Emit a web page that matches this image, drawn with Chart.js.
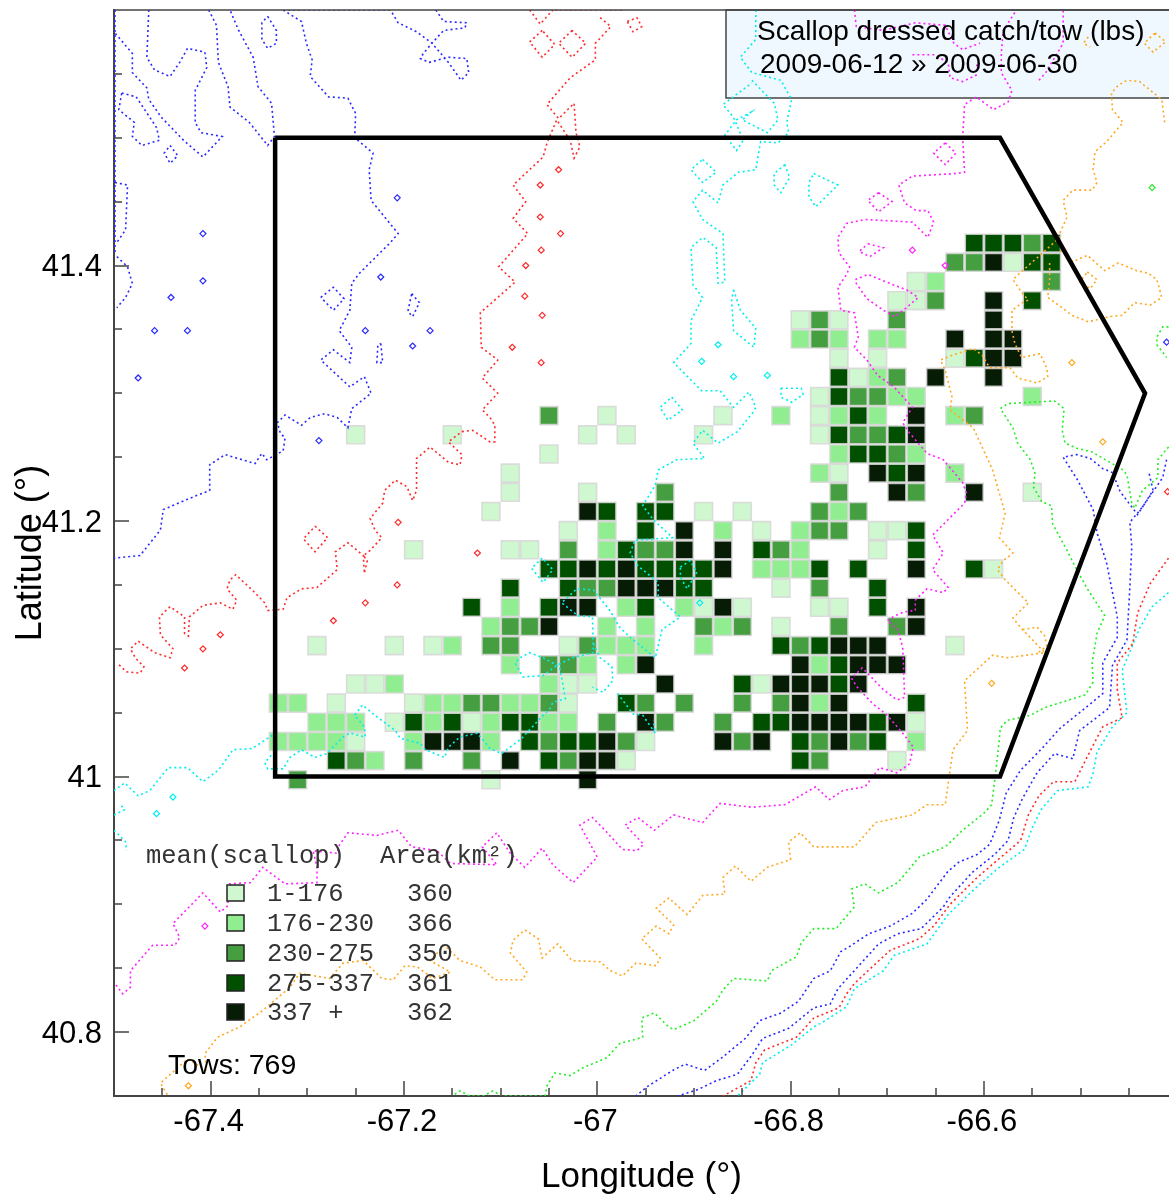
<!DOCTYPE html>
<html>
<head>
<meta charset="utf-8">
<title>Scallop dressed catch/tow</title>
<style>
    html, body { margin: 0; padding: 0; background: #fff; overflow: hidden; }
    canvas { display: block; }
</style>
<script src="https://cdn.jsdelivr.net/npm/chart.js@4"></script>
</head>
<body>
<canvas id="mapChart" width="1169" height="1195"></canvas>
<script>
const titleLines = ['Scallop dressed catch/tow (lbs)', '2009-06-12 \u00bb 2009-06-30'];
const legendLabels = ['1-176', '176-230', '230-275', '275-337', '337 +'];
const legendAreas = ['360', '366', '350', '361', '362'];
const classColors = ['#d0f8d0', '#90ee90', '#459e40', '#005000', '#071c04'];
const towsText = 'Tows: 769';

const lonTicks = [-67.45, -67.4, -67.35, -67.3, -67.25, -67.2, -67.15, -67.1, -67.05, -67, -66.95, -66.9, -66.85, -66.8, -66.75, -66.7, -66.65, -66.6, -66.55, -66.5, -66.45];
const lonLabels = [-67.4, -67.2, -67, -66.8, -66.6];
const latTicks = [40.8, 40.85, 40.9, 40.95, 41, 41.05, 41.1, 41.15, 41.2, 41.25, 41.3, 41.35, 41.4, 41.45, 41.5, 41.55];
const latLabels = [40.8, 41, 41.2, 41.4];

// survey box outline
const boxLine = [[-67.3333, 41.5], [-66.5833, 41.5], [-66.4333, 41.3], [-66.5833, 41], [-67.3333, 41], [-67.3333, 41.5]];

// grid cell centres
const cellLons = [-67.33, -67.31, -67.29, -67.27, -67.25, -67.23, -67.21, -67.19, -67.17, -67.15, -67.13, -67.11, -67.09, -67.07, -67.05, -67.03, -67.01, -66.99, -66.97, -66.95, -66.93, -66.91, -66.89, -66.87, -66.85, -66.83, -66.81, -66.79, -66.77, -66.75, -66.73, -66.71, -66.69, -66.67, -66.65, -66.63, -66.61, -66.59, -66.57, -66.55, -66.53];
const cellLats = [40.9975, 41.0125, 41.0275, 41.0425, 41.0575, 41.0725, 41.0875, 41.1025, 41.1175, 41.1325, 41.1475, 41.1625, 41.1775, 41.1925, 41.2075, 41.2225, 41.2375, 41.2525, 41.2675, 41.2825, 41.2975, 41.3125, 41.3275, 41.3425, 41.3575, 41.3725, 41.3875, 41.4025, 41.4175];
// one string per latitude (south first), one char per longitude: catch class 1-5
const cellRows = [
    '.3.........1....5',
    '...432.3..3.5.43551........43...1',
    '22221..25552.4344531...535.43534.2',
    '..222.1424124422.3.53..3.445555451',
    '22.1...122332231..43.3..3.3525...4',
    '....112.......211...5...4155545',
    '............2.332.25.......524555',
    '..1...1.12.33..13222..2...434555...1',
    '...........2335..2.2..323.1..3..35',
    '..........4.2.455.24.2151...11.4.5',
    '............4..43355544...1.3..4',
    '..............4454544445.2224.4..5..41',
    '.......1....11.3.24335.5.432...1.4',
    '...............1.2.4.5.2.1.233.114',
    '...........1....54.44.1.1...323',
    '............1...1...3........3..53..5..1',
    '............1...............21.545.2',
    '..............1..............24432',
    '....1....1......1.1...1.....143345',
    '..............3..1.....1..2.1242.5.23',
    '............................143322.....2',
    '.............................4123.5..5',
    '.............................1.1...1455',
    '...........................232.22..5.55',
    '...........................131..3....5',
    '................................113..5.4',
    '.................................12.....3',
    '...................................335144',
    '....................................44434'
];

// depth contours as [lon, lat] vertices
const blueLines = [
    [[-67.464,41.6],[-67.466,41.563],[-67.458,41.553],[-67.442,41.548],[-67.432,41.559],[-67.424,41.570],[-67.406,41.567],[-67.404,41.555],[-67.416,41.537],[-67.416,41.512],[-67.410,41.504],[-67.388,41.501],[-67.408,41.485],[-67.428,41.498],[-67.451,41.516],[-67.464,41.530],[-67.466,41.539],[-67.481,41.551],[-67.481,41.566],[-67.499,41.582]],
    [[-67.492,41.535],[-67.477,41.532],[-67.456,41.508],[-67.453,41.498],[-67.471,41.494],[-67.481,41.501],[-67.479,41.512],[-67.495,41.522],[-67.492,41.535]],
    [[-67.402,41.6],[-67.394,41.588],[-67.392,41.559],[-67.382,41.540],[-67.380,41.524],[-67.360,41.512],[-67.341,41.494],[-67.334,41.501],[-67.337,41.527],[-67.351,41.540],[-67.356,41.563],[-67.371,41.584],[-67.380,41.6]],
    [[-67.341,41.595],[-67.332,41.584],[-67.332,41.574],[-67.341,41.570],[-67.347,41.577],[-67.347,41.590],[-67.341,41.595]],
    [[-67.325,41.6],[-67.306,41.591],[-67.301,41.574],[-67.295,41.561],[-67.297,41.548],[-67.278,41.532],[-67.258,41.531],[-67.250,41.519],[-67.251,41.500],[-67.232,41.488],[-67.236,41.475],[-67.234,41.451],[-67.206,41.425],[-67.214,41.418],[-67.246,41.394],[-67.254,41.386],[-67.256,41.365],[-67.267,41.349],[-67.254,41.336],[-67.256,41.324],[-67.273,41.334],[-67.286,41.326],[-67.256,41.305],[-67.241,41.313],[-67.234,41.300],[-67.254,41.288],[-67.258,41.273],[-67.269,41.281],[-67.282,41.284],[-67.297,41.281],[-67.306,41.275],[-67.323,41.283],[-67.331,41.277],[-67.328,41.269],[-67.323,41.265],[-67.325,41.255],[-67.342,41.248],[-67.347,41.253],[-67.354,41.245],[-67.385,41.252],[-67.401,41.244],[-67.401,41.224],[-67.421,41.218],[-67.449,41.209],[-67.452,41.193],[-67.473,41.173],[-67.5,41.171]],
    [[-67.499,41.465],[-67.486,41.463],[-67.488,41.428],[-67.497,41.418]],
    [[-67.497,41.407],[-67.486,41.399],[-67.481,41.386],[-67.488,41.375],[-67.497,41.367]],
    [[-67.167,41.6],[-67.159,41.591],[-67.135,41.590],[-67.137,41.586],[-67.159,41.584],[-67.171,41.574],[-67.180,41.566],[-67.183,41.562],[-67.174,41.559],[-67.154,41.563],[-67.135,41.562],[-67.133,41.551],[-67.141,41.545],[-67.154,41.559],[-67.171,41.574],[-67.187,41.583],[-67.206,41.590],[-67.214,41.6]],
    [[-67.286,41.375],[-67.273,41.383],[-67.262,41.374],[-67.273,41.365],[-67.286,41.375]],
    [[-67.192,41.378],[-67.184,41.371],[-67.191,41.360],[-67.196,41.364],[-67.192,41.378]],
    [[-67.224,41.339],[-67.222,41.324],[-67.228,41.324],[-67.227,41.338],[-67.224,41.339]],
    [[-67.442,41.494],[-67.434,41.486],[-67.442,41.480],[-67.448,41.488],[-67.442,41.494]],
    [[-67.499,41.6],[-67.499,41.41]],
    [[-67.325,41.6],[-67.214,41.6]],
    [[-66.429,41.237],[-66.425,41.224],[-66.441,41.205],[-66.459,41.223],[-66.467,41.238],[-66.477,41.241],[-66.490,41.249],[-66.504,41.252],[-66.518,41.250],[-66.503,41.232],[-66.487,41.209],[-66.483,41.191],[-66.473,41.167],[-66.462,41.125],[-66.462,41.109],[-66.477,41.089],[-66.477,41.065],[-66.501,41.050],[-66.521,41.038],[-66.540,41.022],[-66.562,41.005],[-66.577,40.987],[-66.584,40.966],[-66.594,40.947],[-66.607,40.939],[-66.626,40.933],[-66.637,40.926],[-66.659,40.904],[-66.674,40.893],[-66.697,40.883],[-66.719,40.877],[-66.739,40.867],[-66.748,40.863],[-66.759,40.848],[-66.776,40.842],[-66.792,40.824],[-66.810,40.815],[-66.832,40.809],[-66.847,40.795],[-66.871,40.780],[-66.889,40.770],[-66.909,40.775],[-66.922,40.770],[-66.949,40.757],[-66.960,40.75]],
    [[-66.411,41.248],[-66.415,41.234],[-66.436,41.211],[-66.449,41.199],[-66.447,41.180],[-66.449,41.148],[-66.452,41.107],[-66.467,41.087],[-66.470,41.054],[-66.501,41.036],[-66.508,41.014],[-66.527,41.018],[-66.545,41.003],[-66.560,40.983],[-66.569,40.968],[-66.575,40.950],[-66.589,40.939],[-66.612,40.925],[-66.635,40.906],[-66.642,40.898],[-66.665,40.881],[-66.689,40.877],[-66.709,40.869],[-66.739,40.844],[-66.751,40.834],[-66.759,40.822],[-66.776,40.819],[-66.802,40.803],[-66.829,40.795],[-66.840,40.782],[-66.855,40.767],[-66.877,40.762],[-66.896,40.755],[-66.917,40.75]]
];
const blueSpecks = [[-67.408,41.425],[-67.408,41.388],[-67.441,41.375],[-67.458,41.349],[-67.424,41.349],[-67.475,41.312],[-67.207,41.453],[-67.173,41.349],[-67.191,41.337],[-67.240,41.349],[-67.224,41.391],[-67.288,41.263],[-66.411,41.340]];

const redLines = [
    [[-66.997,41.594],[-66.986,41.587],[-66.997,41.578],[-67.002,41.574],[-67.002,41.561],[-67.028,41.547],[-67.052,41.526],[-67.040,41.515],[-67.024,41.527],[-67.022,41.504],[-67.018,41.493],[-67.024,41.484],[-67.028,41.498],[-67.042,41.514],[-67.052,41.496],[-67.056,41.485],[-67.087,41.463],[-67.074,41.450],[-67.087,41.437],[-67.072,41.425],[-67.102,41.399],[-67.085,41.387],[-67.121,41.363],[-67.120,41.336],[-67.103,41.326],[-67.119,41.312],[-67.103,41.300],[-67.119,41.287],[-67.111,41.281],[-67.106,41.275],[-67.106,41.262],[-67.111,41.262],[-67.129,41.271],[-67.140,41.270],[-67.154,41.262],[-67.140,41.252],[-67.142,41.244],[-67.154,41.246],[-67.173,41.258],[-67.187,41.249],[-67.187,41.224],[-67.191,41.216],[-67.197,41.227],[-67.209,41.232],[-67.220,41.224],[-67.222,41.214],[-67.235,41.202],[-67.230,41.193],[-67.223,41.187],[-67.235,41.177],[-67.242,41.173],[-67.238,41.169],[-67.241,41.159],[-67.242,41.173],[-67.258,41.183],[-67.271,41.176],[-67.269,41.162],[-67.290,41.148],[-67.306,41.147],[-67.321,41.140],[-67.325,41.131],[-67.341,41.130],[-67.344,41.136],[-67.357,41.146],[-67.374,41.158],[-67.380,41.154],[-67.383,41.147],[-67.373,41.138],[-67.377,41.131],[-67.390,41.136],[-67.408,41.134],[-67.422,41.125],[-67.423,41.110],[-67.427,41.112],[-67.427,41.125],[-67.442,41.133],[-67.453,41.125],[-67.452,41.111],[-67.439,41.100],[-67.442,41.093],[-67.458,41.097],[-67.475,41.106],[-67.483,41.100],[-67.478,41.093],[-67.469,41.086],[-67.473,41.081],[-67.487,41.082],[-67.497,41.089]],
    [[-67.070,41.6],[-67.059,41.589],[-67.046,41.6]],
    [[-67.057,41.584],[-67.070,41.575],[-67.057,41.563],[-67.044,41.573],[-67.057,41.584]],
    [[-67.026,41.584],[-67.040,41.574],[-67.026,41.563],[-67.012,41.574],[-67.026,41.584]],
    [[-67.044,41.6],[-66.974,41.6]],
    [[-66.969,41.591],[-66.959,41.594],[-66.954,41.587],[-66.963,41.583],[-66.969,41.591]],
    [[-67.292,41.196],[-67.279,41.187],[-67.292,41.176],[-67.304,41.186],[-67.292,41.196]],
    [[-66.409,41.171],[-66.428,41.151],[-66.441,41.128],[-66.446,41.104],[-66.462,41.089],[-66.462,41.068],[-66.457,41.046],[-66.477,41.039],[-66.488,41.023],[-66.500,41.005],[-66.506,40.996],[-66.528,40.996],[-66.543,40.985],[-66.554,40.970],[-66.562,40.950],[-66.587,40.934],[-66.607,40.921],[-66.635,40.900],[-66.652,40.883],[-66.667,40.873],[-66.697,40.864],[-66.720,40.848],[-66.734,40.838],[-66.742,40.830],[-66.750,40.819],[-66.776,40.811],[-66.794,40.796],[-66.827,40.786],[-66.836,40.776],[-66.841,40.762],[-66.870,40.75]]
];
const redSpecks = [[-67.390,41.111],[-67.408,41.100],[-67.427,41.085],[-67.273,41.122],[-67.124,41.175],[-67.206,41.199],[-67.207,41.150],[-67.240,41.136],[-67.040,41.475],[-67.059,41.463],[-67.059,41.438],[-67.038,41.425],[-67.058,41.412],[-67.074,41.400],[-67.075,41.376],[-67.057,41.361],[-67.088,41.336],[-67.058,41.324],[-66.410,41.223]];

const cyanLines = [
    [[-67.5,40.989],[-67.489,40.995],[-67.475,40.985],[-67.463,40.989],[-67.444,41.007],[-67.424,41.007],[-67.408,40.996],[-67.392,41.005],[-67.377,41.021],[-67.357,41.022],[-67.337,41.032],[-67.330,41.023],[-67.344,41.011],[-67.341,41.006],[-67.325,41.006],[-67.318,41.015],[-67.306,41.021],[-67.292,41.015],[-67.280,41.018],[-67.263,41.031],[-67.256,41.034],[-67.240,41.031],[-67.241,41.039],[-67.251,41.048],[-67.243,41.056],[-67.230,41.048],[-67.209,41.036],[-67.204,41.030],[-67.183,41.026],[-67.178,41.021],[-67.158,41.015],[-67.154,41.023],[-67.142,41.031],[-67.124,41.034],[-67.111,41.022],[-67.099,41.018],[-67.078,41.030],[-67.061,41.044],[-67.049,41.053],[-67.046,41.058],[-67.033,41.061],[-67.037,41.078],[-67.039,41.086],[-67.056,41.093],[-67.070,41.097],[-67.080,41.093],[-67.085,41.089],[-67.077,41.078],[-67.056,41.079],[-67.042,41.087],[-67.026,41.093],[-67.004,41.097],[-67.005,41.125],[-67.020,41.126],[-67.037,41.136],[-67.021,41.147],[-67.004,41.146],[-66.987,41.130],[-66.977,41.117],[-66.966,41.109],[-66.940,41.093],[-66.933,41.115],[-66.914,41.125],[-66.937,41.140],[-66.937,41.152],[-66.958,41.165],[-66.966,41.175],[-66.961,41.185],[-66.922,41.187],[-66.942,41.201],[-66.953,41.212],[-66.940,41.228],[-66.937,41.240],[-66.918,41.248],[-66.889,41.249],[-66.901,41.261],[-66.891,41.271],[-66.875,41.261],[-66.855,41.270],[-66.839,41.285],[-66.836,41.289],[-66.843,41.301],[-66.859,41.289],[-66.873,41.302],[-66.892,41.302],[-66.921,41.324],[-66.903,41.339],[-66.903,41.357],[-66.891,41.375],[-66.901,41.385],[-66.903,41.414],[-66.891,41.422],[-66.877,41.414],[-66.875,41.386],[-66.868,41.387],[-66.870,41.425],[-66.891,41.436],[-66.901,41.450],[-66.891,41.459],[-66.875,41.449],[-66.870,41.463],[-66.854,41.473],[-66.836,41.475],[-66.831,41.497],[-66.813,41.496],[-66.802,41.504],[-66.804,41.512],[-66.799,41.530],[-66.810,41.545],[-66.840,41.551],[-66.852,41.563],[-66.836,41.577],[-66.836,41.6]],
    [[-66.840,41.545],[-66.817,41.527],[-66.813,41.514],[-66.824,41.504],[-66.850,41.514],[-66.841,41.520],[-66.856,41.514],[-66.868,41.502],[-66.856,41.490],[-66.849,41.498],[-66.859,41.516],[-66.870,41.526],[-66.840,41.543]],
    [[-66.891,41.483],[-66.877,41.473],[-66.891,41.465],[-66.903,41.475],[-66.891,41.483]],
    [[-66.806,41.479],[-66.801,41.469],[-66.810,41.457],[-66.817,41.463],[-66.817,41.472],[-66.806,41.479]],
    [[-66.776,41.472],[-66.751,41.463],[-66.774,41.446],[-66.781,41.454],[-66.781,41.465],[-66.776,41.472]],
    [[-66.859,41.381],[-66.852,41.365],[-66.836,41.351],[-66.838,41.336],[-66.859,41.349],[-66.861,41.373],[-66.859,41.381]],
    [[-66.810,41.304],[-66.789,41.304],[-66.787,41.299],[-66.799,41.293],[-66.810,41.297],[-66.810,41.304]],
    [[-66.923,41.297],[-66.912,41.287],[-66.927,41.279],[-66.935,41.289],[-66.923,41.297]],
    [[-66.914,41.164],[-66.904,41.169],[-66.897,41.160],[-66.907,41.147],[-66.914,41.156],[-66.914,41.164]],
    [[-67.057,41.171],[-67.068,41.163],[-67.056,41.152],[-67.046,41.162],[-67.057,41.171]],
    [[-67.004,41.104],[-66.997,41.093],[-66.985,41.086],[-66.984,41.075],[-66.994,41.066],[-67.005,41.070]],
    [[-66.979,41.065],[-66.963,41.049],[-66.953,41.048],[-66.940,41.034],[-66.942,41.044]],
    [[-67.5,40.970],[-67.489,40.974],[-67.494,40.979]],
    [[-67.5,40.958],[-67.488,40.949],[-67.487,40.942]],
    [[-66.409,41.144],[-66.426,41.133],[-66.439,41.116],[-66.457,41.083],[-66.452,41.050],[-66.467,41.039],[-66.483,41.019],[-66.487,41.003],[-66.492,40.992],[-66.524,40.989],[-66.541,40.974],[-66.550,40.960],[-66.558,40.943],[-66.584,40.929],[-66.607,40.914],[-66.637,40.892],[-66.659,40.869],[-66.693,40.860],[-66.704,40.848],[-66.734,40.834],[-66.742,40.820],[-66.764,40.809],[-66.776,40.804],[-66.799,40.790],[-66.829,40.776],[-66.832,40.767],[-66.855,40.75]]
];
const cyanSpecks = [[-67.439,40.984],[-67.456,40.971],[-66.875,41.338],[-66.892,41.325],[-66.859,41.313],[-66.824,41.314],[-66.894,41.136]];

const magentaLines = [
    [[-66.568,41.598],[-66.580,41.584],[-66.582,41.566],[-66.582,41.551],[-66.571,41.537],[-66.575,41.528],[-66.590,41.522],[-66.608,41.532],[-66.620,41.526],[-66.622,41.500],[-66.620,41.473],[-66.629,41.472],[-66.674,41.470],[-66.688,41.463],[-66.682,41.449],[-66.670,41.443],[-66.658,41.443],[-66.652,41.434],[-66.658,41.422],[-66.674,41.434],[-66.723,41.436],[-66.742,41.433],[-66.751,41.422],[-66.750,41.410],[-66.739,41.399],[-66.742,41.393],[-66.751,41.383],[-66.748,41.365],[-66.734,41.363],[-66.730,41.344],[-66.734,41.336],[-66.721,41.326],[-66.710,41.314],[-66.693,41.305],[-66.674,41.289],[-66.684,41.277],[-66.677,41.269],[-66.659,41.253],[-66.642,41.248],[-66.622,41.230],[-66.618,41.222],[-66.620,41.214],[-66.653,41.189],[-66.642,41.175],[-66.653,41.162],[-66.637,41.148],[-66.642,41.144],[-66.659,41.147],[-66.671,41.138],[-66.671,41.130],[-66.682,41.129],[-66.692,41.126],[-66.700,41.122],[-66.689,41.115],[-66.684,41.101],[-66.682,41.062],[-66.690,41.060],[-66.704,41.068],[-66.718,41.079],[-66.726,41.085],[-66.737,41.077],[-66.731,41.070],[-66.715,41.057],[-66.700,41.048],[-66.684,41.034],[-66.673,41.023],[-66.677,41.010],[-66.690,41.003],[-66.708,41.007],[-66.723,40.992],[-66.746,40.989],[-66.760,40.982],[-66.774,40.992],[-66.799,40.981],[-66.806,40.978],[-66.840,40.976],[-66.873,40.979],[-66.891,40.964],[-66.921,40.970],[-66.941,40.958],[-66.958,40.968],[-66.971,40.962],[-66.952,40.947],[-66.959,40.942],[-66.974,40.943],[-66.992,40.958],[-67.005,40.968],[-67.018,40.962],[-67.000,40.937],[-67.025,40.917],[-67.046,40.931],[-67.057,40.944],[-67.075,40.929],[-67.090,40.940],[-67.104,40.956],[-67.119,40.945],[-67.104,40.931],[-67.152,40.932],[-67.166,40.942],[-67.192,40.945],[-67.206,40.958],[-67.228,40.954],[-67.258,40.956],[-67.268,40.945],[-67.269,40.940],[-67.294,40.942],[-67.290,40.929],[-67.290,40.917],[-67.323,40.916],[-67.346,40.929],[-67.359,40.917],[-67.382,40.916],[-67.382,40.899],[-67.390,40.894],[-67.408,40.909],[-67.439,40.885],[-67.432,40.874],[-67.437,40.868],[-67.460,40.868],[-67.483,40.848],[-67.483,40.835],[-67.491,40.830],[-67.5,40.839]],
    [[-66.734,41.6],[-66.732,41.587],[-66.704,41.584],[-66.671,41.590],[-66.640,41.588],[-66.631,41.574],[-66.622,41.569],[-66.604,41.574]],
    [[-66.674,41.565],[-66.652,41.565],[-66.637,41.559],[-66.635,41.547],[-66.622,41.544],[-66.608,41.549],[-66.607,41.559]],
    [[-66.543,41.545],[-66.536,41.551],[-66.518,41.574],[-66.518,41.6]],
    [[-66.640,41.496],[-66.629,41.488],[-66.640,41.479],[-66.652,41.488],[-66.640,41.496]],
    [[-66.709,41.457],[-66.695,41.450],[-66.709,41.442],[-66.720,41.451],[-66.709,41.457]],
    [[-66.720,41.417],[-66.704,41.414],[-66.718,41.407],[-66.729,41.411],[-66.720,41.417]],
    [[-66.733,41.389],[-66.720,41.393],[-66.694,41.385],[-66.680,41.381],[-66.668,41.375],[-66.680,41.367],[-66.692,41.360],[-66.704,41.365],[-66.721,41.374],[-66.733,41.387]]
];
const magentaSpecks = [[-66.674,41.412],[-66.640,41.400],[-67.406,40.883]];

const orangeLines = [
    [[-66.413,41.512],[-66.416,41.530],[-66.439,41.544],[-66.452,41.545],[-66.461,41.541],[-66.468,41.535],[-66.467,41.522],[-66.456,41.512],[-66.473,41.497],[-66.485,41.489],[-66.487,41.475],[-66.483,41.465],[-66.488,41.459],[-66.508,41.459],[-66.518,41.451],[-66.514,41.438],[-66.521,41.426],[-66.523,41.421],[-66.542,41.408],[-66.563,41.394],[-66.570,41.389],[-66.560,41.378],[-66.554,41.373],[-66.560,41.371],[-66.571,41.365],[-66.571,41.349],[-66.568,41.339],[-66.561,41.328],[-66.542,41.331],[-66.535,41.320],[-66.534,41.313],[-66.545,41.308],[-66.565,41.312],[-66.573,41.320],[-66.594,41.320],[-66.602,41.330],[-66.611,41.335],[-66.632,41.330],[-66.645,41.326],[-66.640,41.318],[-66.633,41.297],[-66.635,41.287],[-66.611,41.273],[-66.591,41.240],[-66.578,41.206],[-66.584,41.187],[-66.570,41.175],[-66.580,41.169],[-66.586,41.162],[-66.578,41.154],[-66.554,41.136],[-66.570,41.124],[-66.560,41.115],[-66.537,41.097],[-66.576,41.093],[-66.591,41.095],[-66.620,41.075],[-66.617,41.036],[-66.632,41.021],[-66.635,41.005],[-66.640,40.978],[-66.659,40.978],[-66.674,40.970],[-66.712,40.964],[-66.734,40.945],[-66.776,40.945],[-66.790,40.956],[-66.802,40.949],[-66.800,40.935],[-66.824,40.929],[-66.841,40.918],[-66.857,40.930],[-66.870,40.921],[-66.868,40.908],[-66.891,40.907],[-66.907,40.892],[-66.926,40.905],[-66.939,40.897],[-66.921,40.884],[-66.926,40.877],[-66.939,40.883],[-66.954,40.873],[-66.935,40.858],[-66.939,40.852],[-66.960,40.854],[-66.974,40.844],[-66.986,40.848],[-66.997,40.855],[-67.026,40.856],[-67.041,40.869],[-67.057,40.858],[-67.061,40.873],[-67.075,40.880],[-67.087,40.872],[-67.090,40.862],[-67.073,40.847],[-67.077,40.841],[-67.106,40.841],[-67.121,40.851],[-67.142,40.856],[-67.158,40.868],[-67.173,40.856],[-67.152,40.847],[-67.170,40.842],[-67.186,40.851],[-67.199,40.852],[-67.211,40.841],[-67.223,40.842],[-67.242,40.856],[-67.263,40.854],[-67.277,40.842],[-67.308,40.846],[-67.318,40.835],[-67.346,40.817],[-67.370,40.804],[-67.393,40.796],[-67.406,40.783],[-67.404,40.770],[-67.424,40.779],[-67.452,40.760],[-67.444,40.75]],
    [[-66.521,41.412],[-66.508,41.403],[-66.493,41.408],[-66.475,41.396],[-66.461,41.402],[-66.442,41.396],[-66.430,41.394],[-66.421,41.389],[-66.416,41.375],[-66.428,41.369],[-66.444,41.371],[-66.457,41.361],[-66.470,41.360],[-66.492,41.356],[-66.509,41.361],[-66.521,41.368],[-66.534,41.375],[-66.532,41.389],[-66.532,41.403]],
    [[-66.493,41.395],[-66.483,41.389],[-66.490,41.382],[-66.501,41.387],[-66.493,41.395]],
    [[-66.492,41.579],[-66.497,41.574],[-66.490,41.571]],
    [[-66.423,41.582],[-66.412,41.575],[-66.425,41.567],[-66.434,41.574],[-66.423,41.582]],
    [[-66.560,41.115],[-66.545,41.117],[-66.537,41.110],[-66.535,41.102],[-66.544,41.097]]
];
const orangeSpecks = [[-66.509,41.324],[-66.477,41.262],[-66.592,41.073],[-67.423,40.758]];

const greenLines = [
    [[-66.409,41.258],[-66.420,41.248],[-66.420,41.234],[-66.436,41.224],[-66.444,41.210],[-66.447,41.214],[-66.452,41.236],[-66.456,41.240],[-66.488,41.254],[-66.504,41.257],[-66.516,41.261],[-66.519,41.271],[-66.517,41.288],[-66.527,41.294],[-66.575,41.292],[-66.583,41.288],[-66.570,41.273],[-66.565,41.261],[-66.552,41.248],[-66.547,41.237],[-66.549,41.227],[-66.540,41.215],[-66.530,41.212],[-66.529,41.198],[-66.514,41.177],[-66.504,41.162],[-66.493,41.147],[-66.475,41.126],[-66.483,41.112],[-66.488,41.089],[-66.487,41.074],[-66.495,41.064],[-66.537,41.054],[-66.552,41.048],[-66.576,41.044],[-66.583,41.038],[-66.585,41.022],[-66.589,40.996],[-66.592,40.978],[-66.599,40.972],[-66.622,40.958],[-66.640,40.945],[-66.667,40.937],[-66.689,40.917],[-66.709,40.909],[-66.723,40.916],[-66.737,40.912],[-66.734,40.898],[-66.753,40.881],[-66.776,40.881],[-66.789,40.870],[-66.794,40.859],[-66.820,40.848],[-66.824,40.840],[-66.859,40.842],[-66.870,40.833],[-66.877,40.824],[-66.900,40.809],[-66.921,40.802],[-66.926,40.804],[-66.941,40.815],[-66.954,40.811],[-66.953,40.796],[-66.977,40.791],[-66.990,40.780],[-67.015,40.772],[-67.028,40.766],[-67.044,40.768],[-67.052,40.758],[-67.054,40.75],[-67.099,40.75],[-67.108,40.754],[-67.118,40.75],[-67.132,40.75],[-67.142,40.754],[-67.150,40.75]],
    [[-66.409,41.352],[-66.415,41.352],[-66.421,41.344],[-66.421,41.338],[-66.411,41.328]]
];
const greenSpecks = [[-66.426,41.461]];

const contours = [
    { color: '#2a2aff', lines: blueLines, specks: blueSpecks },
    { color: '#ff2a2a', lines: redLines, specks: redSpecks },
    { color: '#00eeee', lines: cyanLines, specks: cyanSpecks },
    { color: '#ff22ff', lines: magentaLines, specks: magentaSpecks },
    { color: '#ffa820', lines: orangeLines, specks: orangeSpecks },
    { color: '#22ee22', lines: greenLines, specks: greenSpecks }
];

function toPoints(pairs) {
    return pairs.map(p => ({ x: p[0], y: p[1] }));
}

const datasets = [];

// cells, one dataset per catch class
classColors.forEach((color, i) => {
    const points = [];
    cellRows.forEach((row, r) => {
        row.split('').forEach((ch, c) => {
            if (ch === String(i + 1)) points.push({ x: cellLons[c], y: cellLats[r] });
        });
    });
    datasets.push({
        label: legendLabels[i],
        data: points,
        showLine: false,
        pointStyle: 'rect',
        pointRadius: 12.7,
        pointHoverRadius: 12.7,
        backgroundColor: color,
        borderColor: 'rgba(215,215,215,0.85)',
        borderWidth: 1.6,
        order: 10
    });
});

contours.forEach(c => {
    c.lines.forEach(line => {
        datasets.push({
            data: toPoints(line),
            showLine: true,
            pointRadius: 0,
            borderColor: c.color,
            borderWidth: 1.6,
            borderDash: [2, 3],
            tension: 0,
            order: 5
        });
    });
    datasets.push({
        data: toPoints(c.specks),
        showLine: false,
        pointStyle: 'rectRot',
        pointRadius: 3,
        backgroundColor: 'transparent',
        borderColor: c.color,
        borderWidth: 1.2,
        order: 5
    });
});

datasets.push({
    data: toPoints(boxLine),
    showLine: true,
    pointRadius: 0,
    borderColor: '#000',
    borderWidth: 4.5,
    borderJoinStyle: 'miter',
    tension: 0,
    order: 1
});

// title box goes under the contours, the texts over them
const mapDecor = {
    id: 'mapDecor',
    beforeDatasetsDraw(chart) {
        const ctx = chart.ctx;
        const area = chart.chartArea;
        ctx.save();
        ctx.fillStyle = '#f0f8ff';
        ctx.fillRect(726, area.top, area.right - 726, 88);
        ctx.strokeStyle = '#444';
        ctx.lineWidth = 1.5;
        ctx.strokeRect(726, area.top, area.right - 726 + 4, 88);
        ctx.restore();
    },
    afterDatasetsDraw(chart) {
        const ctx = chart.ctx;
        const area = chart.chartArea;
        ctx.save();

        // frame top and inner ticks
        ctx.strokeStyle = '#444';
        ctx.lineWidth = 1.5;
        ctx.beginPath();
        ctx.moveTo(area.left, area.top);
        ctx.lineTo(area.right, area.top);
        chart.scales.x.ticks.forEach(t => {
            const px = Math.round(chart.scales.x.getPixelForValue(t.value));
            const len = lonLabels.includes(t.value) ? 15 : 8;
            ctx.moveTo(px, area.bottom);
            ctx.lineTo(px, area.bottom - len);
        });
        chart.scales.y.ticks.forEach(t => {
            const py = Math.round(chart.scales.y.getPixelForValue(t.value));
            const len = latLabels.includes(t.value) ? 15 : 8;
            ctx.moveTo(area.left, py);
            ctx.lineTo(area.left + len, py);
        });
        ctx.stroke();

        // title
        ctx.fillStyle = '#000';
        ctx.textBaseline = 'middle';
        ctx.font = '28px "Liberation Sans"';
        ctx.fillText(titleLines[0], 757, 32);
        ctx.fillText(titleLines[1], 760, 65);
        ctx.font = '28.5px "Liberation Sans"';
        ctx.fillText(towsText, 168, 1066);

        // legend
        ctx.font = '25.5px "Liberation Mono"';
        ctx.fillStyle = '#333';
        ctx.fillText('mean(scallop)', 146, 856);
        ctx.fillText('Area(km\u00b2)', 380, 856);
        const rowY = [893, 923, 953, 983, 1012];
        legendLabels.forEach((label, i) => {
            ctx.fillStyle = classColors[i];
            ctx.fillRect(227, rowY[i] - 8, 17, 16);
            ctx.strokeStyle = '#222';
            ctx.lineWidth = 1.5;
            ctx.strokeRect(227, rowY[i] - 8, 17, 16);
            ctx.fillStyle = '#333';
            ctx.fillText(label, 267, rowY[i] + 1);
            ctx.fillText(legendAreas[i], 407, rowY[i] + 1);
        });
        ctx.restore();
    }
};

const axisFont = { family: '"Liberation Sans"', size: 31 };

// tick labels must not add room around the plot area
function fixAxisPadding(scale) {
    scale.paddingTop = 0;
    scale.paddingBottom = 0;
    scale.paddingLeft = 0;
    scale.paddingRight = 0;
}

new Chart(document.getElementById('mapChart').getContext('2d'), {
    type: 'scatter',
    data: { datasets: datasets },
    plugins: [mapDecor],
    options: {
        responsive: false,
        animation: false,
        layout: { autoPadding: false, padding: { top: 10, left: 0, right: 0, bottom: 0 } },
        plugins: { legend: { display: false }, tooltip: { enabled: false } },
        scales: {
            x: {
                type: 'linear',
                min: -67.5,
                max: -66.4085,
                grid: { display: false, drawTicks: false },
                border: { display: true, color: '#444', width: 2 },
                afterFit(scale) { scale.height = 99; fixAxisPadding(scale); },
                afterBuildTicks(scale) { scale.ticks = lonTicks.map(v => ({ value: v })); },
                ticks: {
                    color: '#000',
                    font: axisFont,
                    padding: 8,
                    labelOffset: -2,
                    autoSkip: false,
                    maxRotation: 0,
                    callback: v => (lonLabels.includes(v) ? String(v) : '')
                },
                title: {
                    display: true,
                    text: 'Longitude (\u00b0)',
                    color: '#000',
                    font: { family: '"Liberation Sans"', size: 35, lineHeight: 1 },
                    padding: { top: 0, bottom: 0 }
                }
            },
            y: {
                type: 'linear',
                min: 40.75,
                max: 41.6,
                grid: { display: false, drawTicks: false },
                border: { display: true, color: '#444', width: 2 },
                afterFit(scale) { scale.width = 114; fixAxisPadding(scale); },
                afterBuildTicks(scale) { scale.ticks = latTicks.map(v => ({ value: v })); },
                ticks: {
                    color: '#000',
                    font: axisFont,
                    padding: 12,
                    labelOffset: 2,
                    autoSkip: false,
                    callback: v => (latLabels.includes(v) ? String(v) : '')
                },
                title: {
                    display: true,
                    text: 'Latitude (\u00b0)',
                    color: '#000',
                    font: { family: '"Liberation Sans"', size: 36, lineHeight: 1 },
                    padding: { top: 13, bottom: 0 }
                }
            }
        }
    }
});
</script>
</body>
</html>
